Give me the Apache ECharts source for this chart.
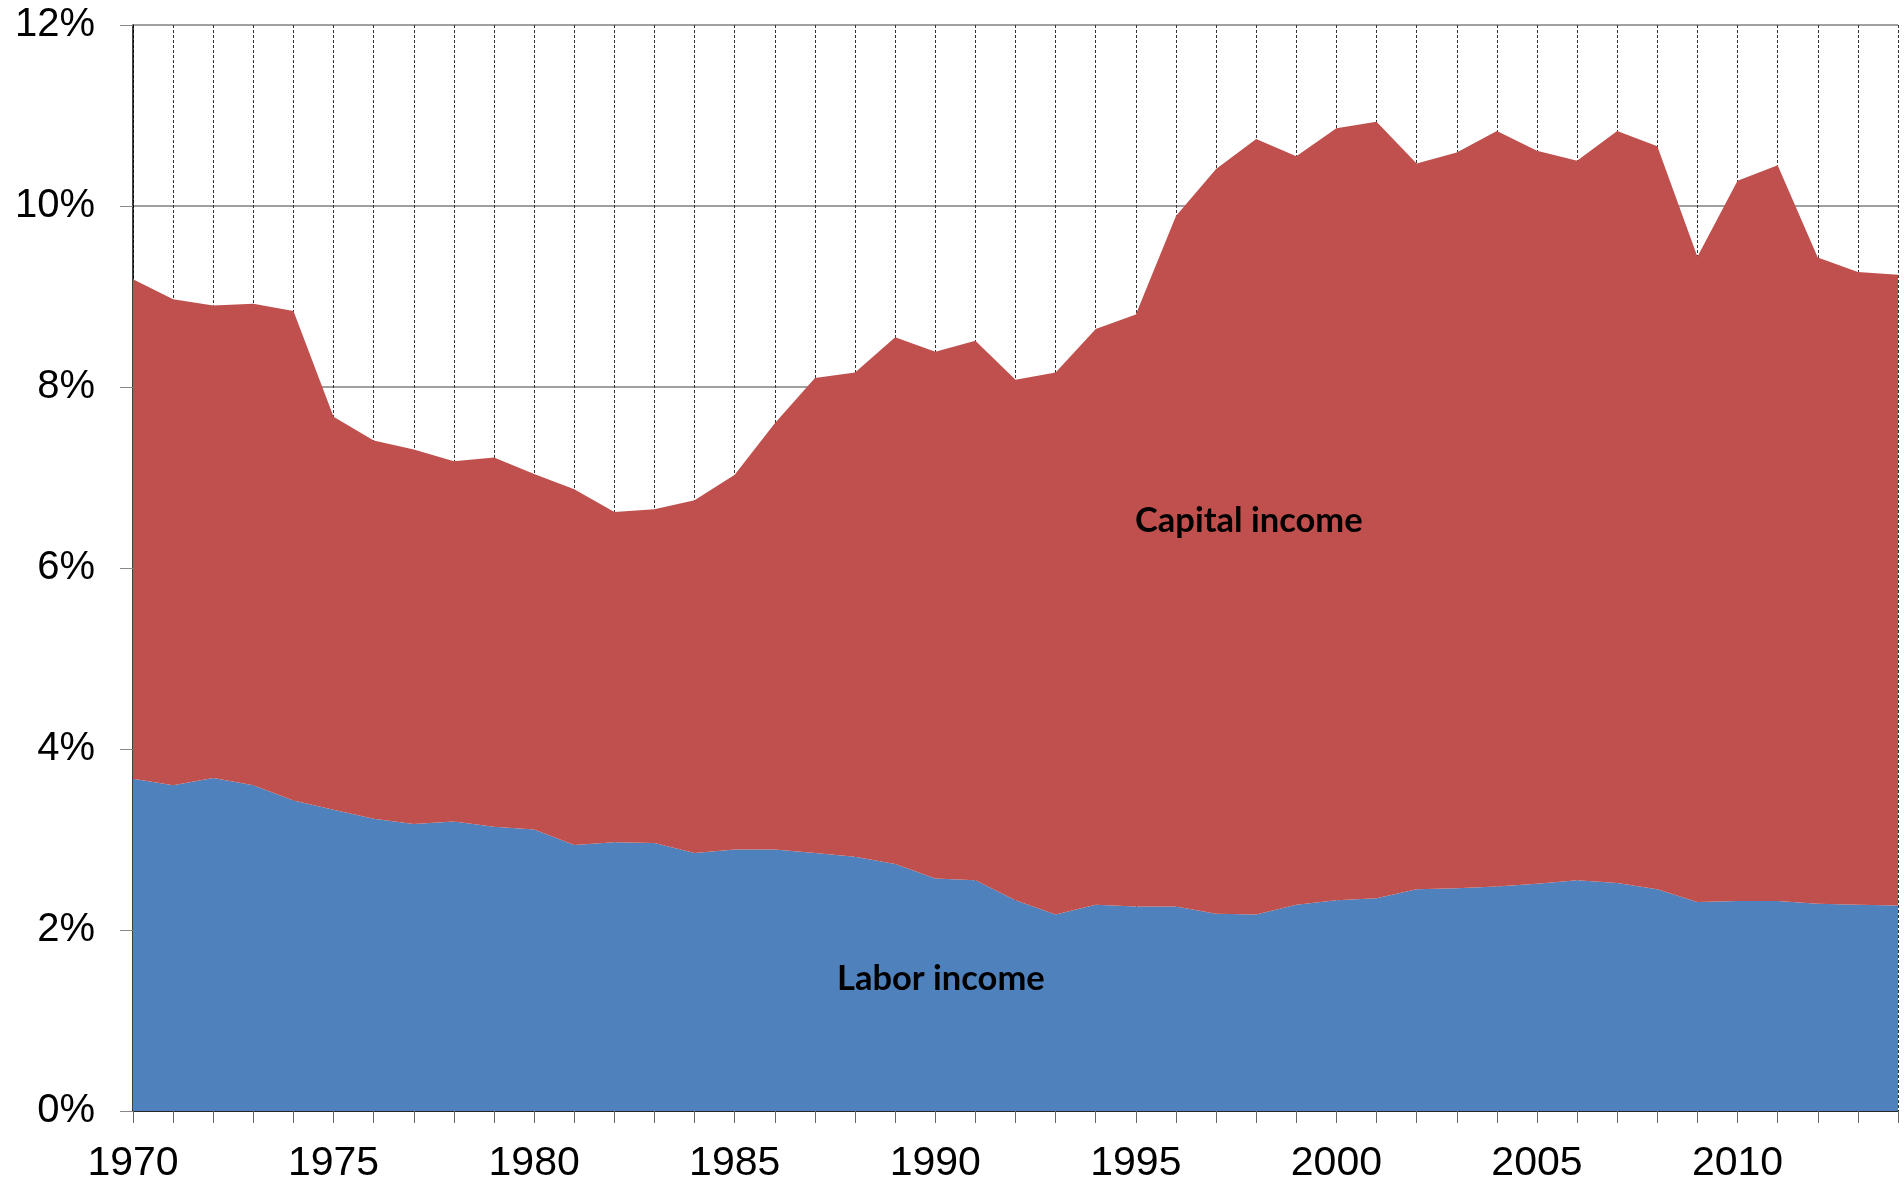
<!DOCTYPE html>
<html>
<head>
<meta charset="utf-8">
<title>Labor vs capital income</title>
<script src="https://cdn.jsdelivr.net/npm/echarts@6/dist/echarts.min.js"></script>
<style>
  html, body { margin: 0; padding: 0; background: #fff; }
  #chart { width: 1904px; height: 1185px; }
</style>
</head>
<body>
<div id="chart"></div>
<script>
// years on the x axis
var years = [];
for (var y = 1970; y <= 2014; y++) years.push(String(y));

// share of income, in %
var labor = [
  3.67, 3.60, 3.68, 3.60, 3.43, 3.33, 3.23, 3.17, 3.20, 3.14,
  3.11, 2.94, 2.97, 2.96, 2.85, 2.89, 2.89, 2.85, 2.81, 2.73,
  2.57, 2.55, 2.33, 2.17, 2.28, 2.26, 2.26, 2.18, 2.17, 2.28,
  2.33, 2.35, 2.45, 2.46, 2.48, 2.51, 2.55, 2.52, 2.45, 2.31,
  2.32, 2.32, 2.29, 2.28, 2.27
];
var capital = [
  5.52, 5.37, 5.22, 5.32, 5.41, 4.34, 4.18, 4.14, 3.98, 4.08,
  3.93, 3.93, 3.65, 3.69, 3.90, 4.14, 4.71, 5.25, 5.35, 5.82,
  5.82, 5.96, 5.75, 5.99, 6.36, 6.54, 7.63, 8.23, 8.57, 8.27,
  8.53, 8.58, 8.02, 8.13, 8.35, 8.10, 7.95, 8.31, 8.21, 7.13,
  7.96, 8.13, 7.14, 6.99, 6.97
];

var chart = echarts.init(document.getElementById('chart'));

var option = {
  animation: false,
  grid: { left: 133, right: 6, top: 25, bottom: 74 },
  xAxis: {
    type: 'category',
    boundaryGap: false,
    data: years,
    axisLine: { show: true, lineStyle: { color: '#000', width: 1.5 } },
    axisTick: { show: true, interval: 0, length: 12, lineStyle: { color: '#666' } },
    axisLabel: {
      interval: 4,
      margin: 32,
      color: '#000',
      fontFamily: 'Liberation Sans, Arial',
      fontSize: 41
    },
    splitLine: {
      show: true,
      interval: 0,
      lineStyle: { color: '#333', width: 1, type: [3, 2] }
    }
  },
  yAxis: {
    type: 'value',
    min: 0,
    max: 12,
    interval: 2,
    axisLine: { show: true, lineStyle: { color: '#000', width: 1.5 } },
    axisTick: { show: true, length: 13, lineStyle: { color: '#888' } },
    axisLabel: {
      margin: 38,
      color: '#000',
      fontFamily: 'Liberation Sans, Arial',
      fontSize: 40,
      formatter: '{value}%'
    },
    splitLine: { show: true, lineStyle: { color: '#808080', width: 1.5 } }
  },
  series: [
    {
      name: 'Labor income',
      type: 'line',
      stack: 'total',
      data: labor,
      showSymbol: false,
      lineStyle: { width: 0 },
      areaStyle: { color: '#4F81BD', opacity: 1 },
      z: 2
    },
    {
      name: 'Capital income',
      type: 'line',
      stack: 'total',
      data: capital,
      showSymbol: false,
      lineStyle: { width: 0 },
      areaStyle: { color: '#C0504D', opacity: 1 },
      z: 2
    }
  ],
  // text labels inside the areas
  graphic: [
    {
      type: 'text',
      left: 1135,
      top: 503,
      z: 100,
      style: { text: 'Capital income', fill: '#000', font: 'bold 34.5px Lato, "Open Sans", sans-serif' }
    },
    {
      type: 'text',
      left: 837,
      top: 961,
      z: 100,
      style: { text: 'Labor income', fill: '#000', font: 'bold 34.5px Lato, "Open Sans", sans-serif' }
    }
  ]
};

chart.setOption(option);
</script>
</body>
</html>
